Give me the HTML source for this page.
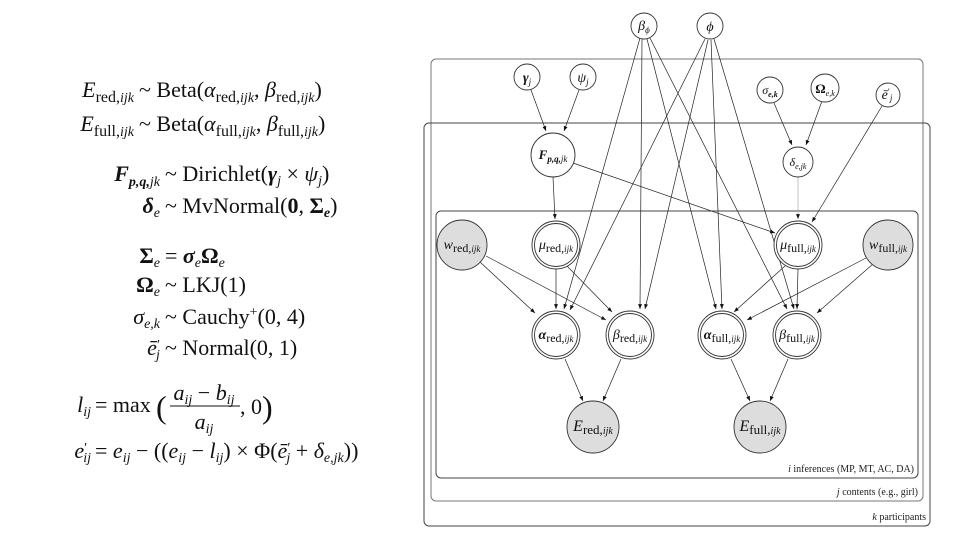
<!DOCTYPE html>
<html><head><meta charset="utf-8"><style>
html,body{margin:0;padding:0;background:#fff;}
svg{display:block;font-family:"Liberation Serif",serif;}
.m{font-style:italic;}
</style></head><body>
<svg width="960" height="540" viewBox="0 0 960 540" xmlns="http://www.w3.org/2000/svg">
<defs>
<marker id="a" viewBox="0 0 10 10" refX="10" refY="5" markerWidth="7" markerHeight="7" orient="auto"><path d="M0,1 L10,5 L0,9 z" fill="#111"/></marker>
</defs>
<g font-size="22" fill="#111">
<text x="134" y="97" text-anchor="end"><tspan class="m">E</tspan><tspan font-size="16" dy="5">red,</tspan><tspan font-size="14" class="m">ijk</tspan></text>
<text x="139" y="97">~ Beta(<tspan class="m">α</tspan><tspan font-size="16" dy="5">red,</tspan><tspan font-size="14" class="m">ijk</tspan><tspan dy="-5">, </tspan><tspan class="m">β</tspan><tspan font-size="16" dy="5">red,</tspan><tspan font-size="14" class="m">ijk</tspan><tspan dy="-5">)</tspan></text>
<text x="134" y="131" text-anchor="end"><tspan class="m">E</tspan><tspan font-size="16" dy="5">full,</tspan><tspan font-size="14" class="m">ijk</tspan></text>
<text x="139" y="131">~ Beta(<tspan class="m">α</tspan><tspan font-size="16" dy="5">full,</tspan><tspan font-size="14" class="m">ijk</tspan><tspan dy="-5">, </tspan><tspan class="m">β</tspan><tspan font-size="16" dy="5">full,</tspan><tspan font-size="14" class="m">ijk</tspan><tspan dy="-5">)</tspan></text>

<text x="160" y="181" text-anchor="end"><tspan class="m" font-weight="bold">F</tspan><tspan font-size="14" dy="5" class="m" font-weight="bold">p,q,</tspan><tspan font-size="14" class="m">jk</tspan></text>
<text x="165" y="181">~ Dirichlet(<tspan class="m" font-weight="bold">γ</tspan><tspan font-size="14" class="m" dy="4">j</tspan><tspan dy="-4"> × </tspan><tspan class="m">ψ</tspan><tspan font-size="14" class="m" dy="4">j</tspan><tspan dy="-4">)</tspan></text>
<text x="160" y="213" text-anchor="end"><tspan font-weight="bold" class="m">δ</tspan><tspan font-size="14" class="m" dy="4">e</tspan></text>
<text x="165" y="213">~ MvNormal(<tspan font-weight="bold">0</tspan>, <tspan font-weight="bold">Σ</tspan><tspan font-size="14" class="m" font-weight="bold" dy="4">e</tspan><tspan dy="-4">)</tspan></text>

<text x="160" y="263" text-anchor="end"><tspan font-weight="bold">Σ</tspan><tspan font-size="14" class="m" dy="4">e</tspan></text>
<text x="165" y="263">= <tspan font-weight="bold" class="m">σ</tspan><tspan font-size="14" class="m" dy="4">e</tspan><tspan font-weight="bold" dy="-4">Ω</tspan><tspan font-size="14" class="m" dy="4">e</tspan></text>
<text x="160" y="292" text-anchor="end"><tspan font-weight="bold">Ω</tspan><tspan font-size="14" class="m" dy="4">e</tspan></text>
<text x="165" y="292">~ LKJ(1)</text>
<text x="160" y="324" text-anchor="end"><tspan class="m">σ</tspan><tspan font-size="14" class="m" dy="4">e,k</tspan></text>
<text x="165" y="324">~ Cauchy<tspan font-size="14" dy="-8">+</tspan><tspan dy="8">(0, 4)</tspan></text>
<text x="160" y="355" text-anchor="end"><tspan class="m">ē</tspan><tspan font-size="14" dy="-6">′</tspan><tspan font-size="14" class="m" dy="10" dx="-4">j</tspan></text>
<text x="165" y="355">~ Normal(0, 1)</text>

<text x="91" y="412" text-anchor="end"><tspan class="m">l</tspan><tspan font-size="14" class="m" dy="4">ij</tspan></text>
<text x="95" y="412">= max</text>
<text x="156" y="418" font-size="32">(</text>
<text x="204" y="400" text-anchor="middle"><tspan class="m">a</tspan><tspan font-size="14" class="m" dy="4">ij</tspan><tspan dy="-4"> − </tspan><tspan class="m">b</tspan><tspan font-size="14" class="m" dy="4">ij</tspan></text>
<line x1="170" y1="406" x2="240" y2="406" stroke="#111" stroke-width="1"/>
<text x="204" y="429" text-anchor="middle"><tspan class="m">a</tspan><tspan font-size="14" class="m" dy="4">ij</tspan></text>
<text x="240" y="414">, 0</text>
<text x="262" y="418" font-size="32">)</text>

<text x="91" y="458" text-anchor="end"><tspan class="m">e</tspan><tspan font-size="14" dy="-6">′</tspan><tspan font-size="14" class="m" dy="10" dx="-4">ij</tspan></text>
<text x="95" y="458">= <tspan class="m">e</tspan><tspan font-size="14" class="m" dy="4">ij</tspan><tspan dy="-4"> − ((</tspan><tspan class="m">e</tspan><tspan font-size="14" class="m" dy="4">ij</tspan><tspan dy="-4"> − </tspan><tspan class="m">l</tspan><tspan font-size="14" class="m" dy="4">ij</tspan><tspan dy="-4">) × Φ(</tspan><tspan class="m">ē</tspan><tspan font-size="14" dy="-6">′</tspan><tspan font-size="14" class="m" dy="10" dx="-4">j</tspan><tspan dy="-4"> + </tspan><tspan class="m">δ</tspan><tspan font-size="14" class="m" dy="4">e,jk</tspan><tspan dy="-4">))</tspan></text>
</g>

<g fill="none" stroke="#444" stroke-width="1">
<rect x="431" y="59" width="492" height="442" rx="5" stroke="#777"/>
<rect x="424" y="123" width="506" height="403" rx="5"/>
<rect x="436" y="211" width="482" height="267" rx="5"/>
</g>
<g font-size="10" fill="#222" text-anchor="end">
<text x="914" y="472"><tspan class="m">i</tspan> inferences (MP, MT, AC, DA)</text>
<text x="918" y="495"><tspan class="m">j</tspan> contents (e.g., girl)</text>
<text x="926" y="520"><tspan class="m">k</tspan> participants</text>
</g>

<g stroke="#222" stroke-width="0.7" fill="none" marker-end="url(#a)">
<line x1="531" y1="90" x2="546" y2="131"/>
<line x1="579" y1="90" x2="564" y2="131"/>
<line x1="553" y1="177" x2="555" y2="219"/>
<line x1="573" y1="163" x2="775" y2="233"/>
<line x1="774" y1="103" x2="792" y2="145"/>
<line x1="822" y1="101" x2="806" y2="145"/>
<line x1="798" y1="177" x2="798" y2="219" stroke="#aaa"/>
<line x1="882" y1="106" x2="812" y2="222"/>
<line x1="640" y1="38" x2="564" y2="309"/>
<line x1="642" y1="39" x2="640" y2="309"/>
<line x1="647" y1="39" x2="716" y2="309"/>
<line x1="650" y1="38" x2="787" y2="309"/>
<line x1="705" y1="39" x2="570" y2="310"/>
<line x1="708" y1="40" x2="645" y2="309"/>
<line x1="711" y1="40" x2="722" y2="309"/>
<line x1="714" y1="39" x2="794" y2="309"/>
<line x1="480" y1="262" x2="535" y2="313"/>
<line x1="486" y1="256" x2="606" y2="320"/>
<line x1="556" y1="269" x2="556" y2="309"/>
<line x1="567" y1="266" x2="612" y2="312"/>
<line x1="785" y1="266" x2="734" y2="312"/>
<line x1="798" y1="269" x2="797" y2="309"/>
<line x1="866" y1="258" x2="747" y2="320"/>
<line x1="873" y1="264" x2="817" y2="313"/>
<line x1="565" y1="359" x2="583" y2="401"/>
<line x1="621" y1="359" x2="603" y2="401"/>
<line x1="731" y1="359" x2="750" y2="401"/>
<line x1="788" y1="359" x2="770" y2="401"/>
</g>

<g stroke="#333" stroke-width="0.9" fill="#fff">
<circle cx="644" cy="26" r="13"/>
<circle cx="710" cy="26" r="13"/>
<circle cx="527" cy="77" r="13"/>
<circle cx="583" cy="77" r="13"/>
<circle cx="770" cy="90" r="13"/>
<circle cx="825" cy="88" r="14"/>
<circle cx="888" cy="95" r="12"/>
<circle cx="553" cy="155" r="22"/>
<circle cx="798" cy="162" r="15"/>
<circle cx="462" cy="245" r="25" fill="#ddd"/>
<circle cx="888" cy="245" r="25" fill="#ddd"/>
<circle cx="593" cy="427" r="26" fill="#ddd"/>
<circle cx="760" cy="427" r="26" fill="#ddd"/>
<circle cx="556" cy="245" r="24"/><circle cx="556" cy="245" r="21.5"/>
<circle cx="798" cy="245" r="24"/><circle cx="798" cy="245" r="21.5"/>
<circle cx="556" cy="335" r="24"/><circle cx="556" cy="335" r="21.5"/>
<circle cx="630" cy="335" r="24"/><circle cx="630" cy="335" r="21.5"/>
<circle cx="722" cy="335" r="24"/><circle cx="722" cy="335" r="21.5"/>
<circle cx="797" cy="335" r="24"/><circle cx="797" cy="335" r="21.5"/>
</g>

<g font-size="14" fill="#111" text-anchor="middle">
<text x="644" y="30"><tspan class="m">β</tspan><tspan font-size="9" class="m" dy="3">ϕ</tspan></text>
<text x="710" y="31" class="m">ϕ</text>
<text x="527" y="82"><tspan class="m" font-weight="bold">γ</tspan><tspan font-size="9" class="m" dy="3">j</tspan></text>
<text x="583" y="82"><tspan class="m">ψ</tspan><tspan font-size="9" class="m" dy="3">j</tspan></text>
<text x="770" y="94" font-size="12"><tspan class="m">σ</tspan><tspan font-size="8" class="m" dy="3" font-weight="bold">e,k</tspan></text>
<text x="825" y="93" font-size="13"><tspan font-weight="bold">Ω</tspan><tspan font-size="8" class="m" dy="3">e,k</tspan></text>
<text x="887" y="99"><tspan class="m">ē</tspan><tspan font-size="9" dy="-4">′</tspan><tspan font-size="9" class="m" dy="6">j</tspan></text>
<text x="553" y="159" font-size="13"><tspan class="m" font-weight="bold">F</tspan><tspan font-size="9" class="m" dy="3" font-weight="bold">p,q,</tspan><tspan font-size="9" class="m">jk</tspan></text>
<text x="798" y="166" font-size="12"><tspan class="m">δ</tspan><tspan font-size="8" class="m" dy="3">e,jk</tspan></text>
<text x="462" y="249"><tspan class="m">w</tspan><tspan font-size="12" dy="3">red,</tspan><tspan font-size="9" class="m">ijk</tspan></text>
<text x="888" y="249"><tspan class="m">w</tspan><tspan font-size="12" dy="3">full,</tspan><tspan font-size="9" class="m">ijk</tspan></text>
<text x="556" y="249"><tspan class="m">μ</tspan><tspan font-size="12" dy="3">red,</tspan><tspan font-size="9" class="m">ijk</tspan></text>
<text x="798" y="249"><tspan class="m">μ</tspan><tspan font-size="12" dy="3">full,</tspan><tspan font-size="9" class="m">ijk</tspan></text>
<text x="556" y="339"><tspan class="m" font-weight="bold">α</tspan><tspan font-size="12" dy="3">red,</tspan><tspan font-size="9" class="m">ijk</tspan></text>
<text x="630" y="339"><tspan class="m">β</tspan><tspan font-size="12" dy="3">red,</tspan><tspan font-size="9" class="m">ijk</tspan></text>
<text x="722" y="339"><tspan class="m" font-weight="bold">α</tspan><tspan font-size="12" dy="3">full,</tspan><tspan font-size="9" class="m">ijk</tspan></text>
<text x="797" y="339"><tspan class="m">β</tspan><tspan font-size="12" dy="3">full,</tspan><tspan font-size="9" class="m">ijk</tspan></text>
<text x="593" y="431" font-size="16"><tspan class="m">E</tspan><tspan font-size="13" dy="3">red,</tspan><tspan font-size="10" class="m">ijk</tspan></text>
<text x="760" y="431" font-size="16"><tspan class="m">E</tspan><tspan font-size="13" dy="3">full,</tspan><tspan font-size="10" class="m">ijk</tspan></text>
</g>
</svg>
</body></html>
